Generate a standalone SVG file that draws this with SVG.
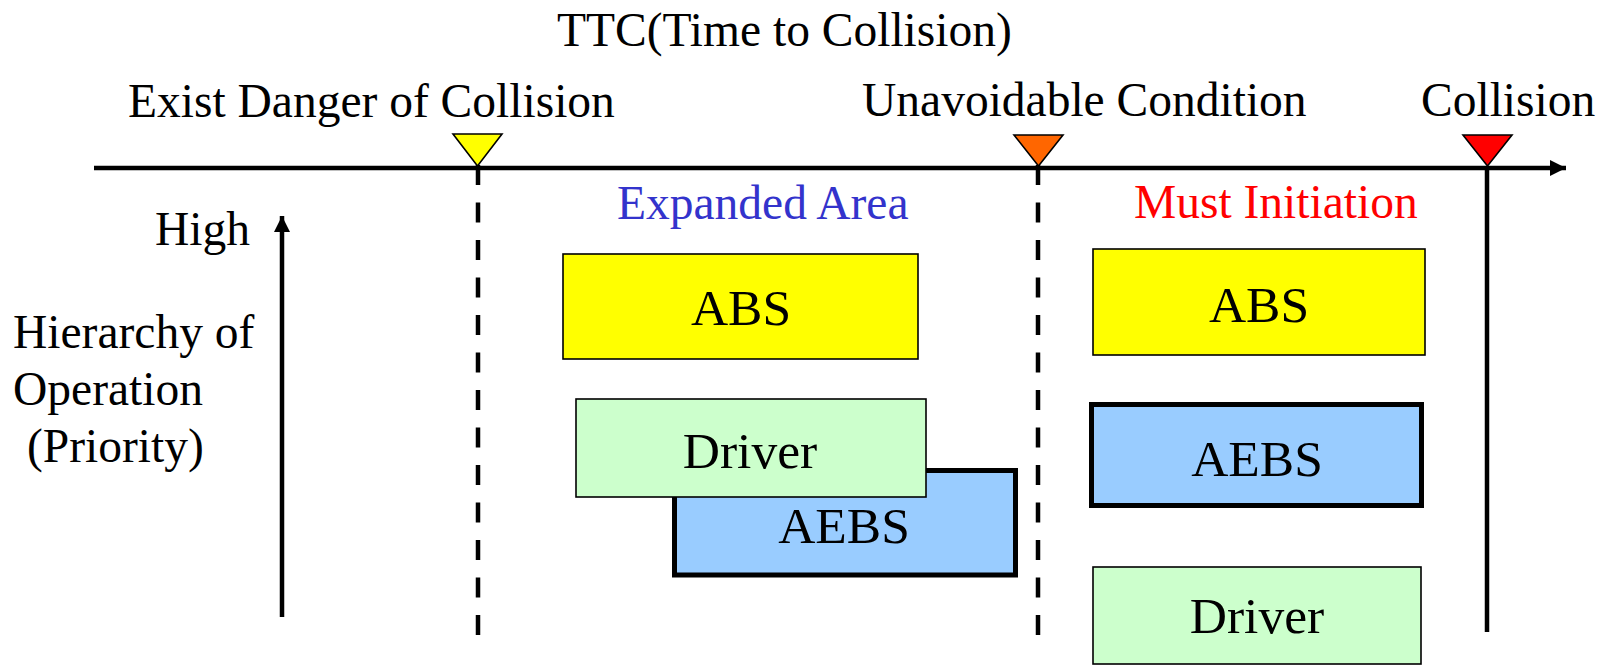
<svg xmlns="http://www.w3.org/2000/svg" width="1606" height="667" viewBox="0 0 1606 667">
<style>
text{font-family:"Liberation Serif","Times New Roman",serif;fill:#000}
.lbl{font-size:47.5px}
.box{font-size:51.5px;text-anchor:middle}
.thin{stroke:#000;stroke-width:1.6}
.thick{stroke:#000;stroke-width:5}
.tri{stroke:#000;stroke-width:1.6;stroke-linejoin:miter}
.dash{stroke:#000;stroke-width:4.5;stroke-dasharray:20 17.5;fill:none}
.solid{stroke:#000;stroke-width:4.5;fill:none}
</style>
<defs>
<marker id="ah" viewBox="0 0 10 10" refX="10" refY="5" markerWidth="17" markerHeight="16" markerUnits="userSpaceOnUse" orient="auto">
<path d="M0,0 L10,5 L0,10 Z" fill="#000"/>
</marker>
</defs>
<rect width="1606" height="667" fill="#fff"/>

<g id="labels">
<text class="lbl" x="557" y="46">TTC(Time to Collision)</text>
<text class="lbl" x="128" y="117">Exist Danger of Collision</text>
<text class="lbl" x="862" y="116">Unavoidable Condition</text>
<text class="lbl" x="1421" y="116">Collision</text>
<text class="lbl" x="617" y="219" style="fill:#3333CC">Expanded Area</text>
<text class="lbl" x="1134" y="218" style="fill:#FF0000">Must Initiation</text>
<text class="lbl" x="155" y="245">High</text>
<text class="lbl" x="13" y="348">Hierarchy of</text>
<text class="lbl" x="13" y="405">Operation</text>
<text class="lbl" x="27" y="462">(Priority)</text>
</g>

<g id="connectors">
<line class="solid" x1="94" y1="168" x2="1566" y2="168" stroke-width="5" marker-end="url(#ah)"/>
<line class="solid" x1="282" y1="617" x2="282" y2="216" marker-end="url(#ah)"/>
<line class="dash" x1="478" y1="165" x2="478" y2="636"/>
<line class="dash" x1="1038" y1="165" x2="1038" y2="636"/>
<line class="solid" x1="1487" y1="166" x2="1487" y2="632"/>
</g>

<g id="markers">
<polygon class="tri" points="453,134 502,134 477.5,166" fill="#FFFF00"/>
<polygon class="tri" points="1014,135 1063,135 1038.5,166" fill="#FF6600"/>
<polygon class="tri" points="1463,135 1512,135 1487.5,166" fill="#FF0000"/>
</g>

<g id="left-abs">
<rect class="thin" x="563" y="254" width="355" height="105" fill="#FFFF00"/>
<text class="box" x="741" y="325">ABS</text>
</g>
<g id="left-aebs">
<rect class="thick" x="674.5" y="470.5" width="341" height="104.5" fill="#99CCFF"/>
<text class="box" x="844" y="543">AEBS</text>
</g>
<g id="left-driver">
<rect class="thin" x="576" y="399" width="350" height="98" fill="#CCFFCC"/>
<text class="box" x="750" y="468">Driver</text>
</g>

<g id="right-abs">
<rect class="thin" x="1093" y="249" width="332" height="106" fill="#FFFF00"/>
<text class="box" x="1259" y="322">ABS</text>
</g>
<g id="right-aebs">
<rect class="thick" x="1091.5" y="404.5" width="330" height="101" fill="#99CCFF"/>
<text class="box" x="1257" y="476">AEBS</text>
</g>
<g id="right-driver">
<rect class="thin" x="1093" y="567" width="328" height="97" fill="#CCFFCC"/>
<text class="box" x="1257" y="633">Driver</text>
</g>
</svg>
